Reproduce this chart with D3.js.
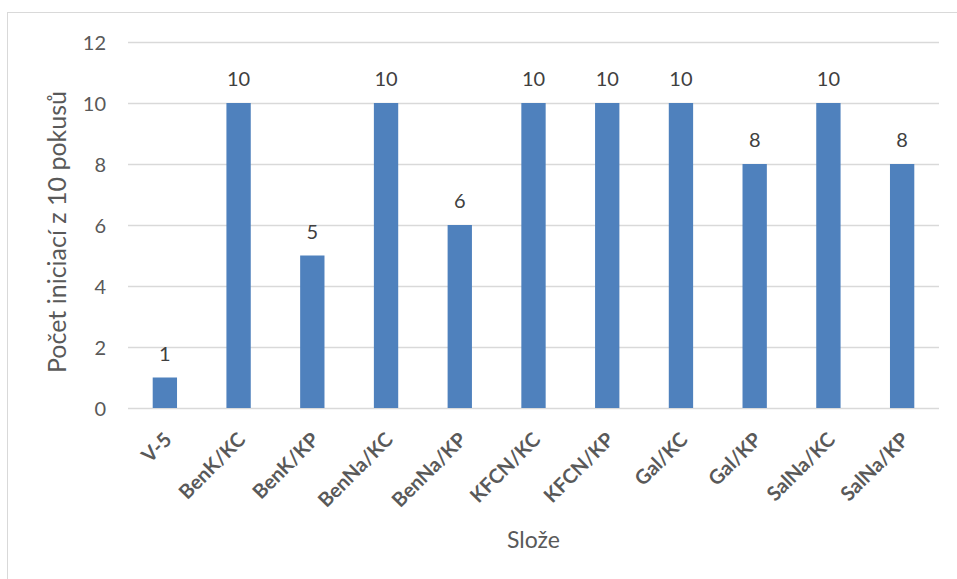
<!DOCTYPE html>
<html>
<head>
<meta charset="utf-8">
<script src="https://cdn.jsdelivr.net/npm/d3@7"></script>
<style>
  html, body { margin: 0; padding: 0; background: #fff; }
  svg { display: block; font-family: Lato, "Open Sans", "Noto Sans", sans-serif; }
</style>
</head>
<body>
<svg id="chart" width="957" height="579"></svg>
<script>
// Compositions tested and number of successful initiations out of 10 attempts
const categories = ["V-5", "BenK/KC", "BenK/KP", "BenNa/KC", "BenNa/KP", "KFCN/KC", "KFCN/KP", "Gal/KC", "Gal/KP", "SalNa/KC", "SalNa/KP"];
const initiations = [1, 10, 5, 10, 6, 10, 10, 10, 8, 10, 8];
const yTicks = [0, 2, 4, 6, 8, 10, 12];

const yTitle = "Počet iniciací z 10 pokusů";
const xTitle = "Slože";

const svg = d3.select("#chart");
const W = 957, H = 579;
const margin = { left: 128, right: 18, top: 42, bottom: 171 };
const textColor = "#595959";

// outer frame of the chart
svg.append("rect")
  .attr("x", 7.5).attr("y", 12.5)
  .attr("width", W + 20).attr("height", H + 20)
  .attr("fill", "none").attr("stroke", "#d9d9d9").attr("stroke-width", 1);

const x = d3.scaleBand()
  .domain(categories)
  .range([margin.left, W - margin.right])
  .padding(0);

const y = d3.scaleLinear()
  .domain([0, 12])
  .range([H - margin.bottom, margin.top]);

const barW = x.bandwidth() * 0.33;

// horizontal gridlines
svg.append("g")
  .selectAll("line")
  .data(yTicks)
  .join("line")
  .attr("x1", margin.left).attr("x2", W - margin.right)
  .attr("y1", d => Math.round(y(d)) + 0.5).attr("y2", d => Math.round(y(d)) + 0.5)
  .attr("stroke", "#d9d9d9").attr("stroke-width", 1.5);

// y axis tick labels
const yAxis = d3.axisLeft(y).tickValues(yTicks).tickSize(0).tickPadding(0);
const gy = svg.append("g")
  .attr("transform", `translate(${margin.left - 22},0)`)
  .call(yAxis);
gy.select(".domain").remove();
gy.selectAll("text")
  .attr("fill", textColor)
  .attr("font-family", "Lato, 'Open Sans', sans-serif")
  .attr("font-size", 20)
  .attr("dy", "0.35em");

// bars
svg.append("g")
  .selectAll("rect")
  .data(categories)
  .join("rect")
  .attr("x", (d) => x(d) + x.bandwidth() / 2 - barW / 2)
  .attr("width", barW)
  .attr("y", (d, i) => y(initiations[i]))
  .attr("height", (d, i) => y(0) - y(initiations[i]))
  .attr("fill", "#4f81bd");

// value labels above bars
svg.append("g")
  .selectAll("text")
  .data(categories)
  .join("text")
  .attr("x", d => x(d) + x.bandwidth() / 2)
  .attr("y", (d, i) => y(initiations[i]) - 17)
  .attr("text-anchor", "middle")
  .attr("fill", "#404040")
  .attr("font-size", 20)
  .text((d, i) => initiations[i]);

// x axis category labels, rotated 45 degrees
svg.append("g")
  .selectAll("text")
  .data(categories)
  .join("text")
  .attr("transform", d => `translate(${x(d) + x.bandwidth() / 2 + 8},${y(0) + 33}) rotate(-45)`)
  .attr("text-anchor", "end")
  .attr("fill", textColor)
  .attr("font-size", 20)
  .attr("font-weight", "bold")
  .text(d => d);

// axis titles
svg.append("text")
  .attr("x", (margin.left + W - margin.right) / 2)
  .attr("y", 548)
  .attr("text-anchor", "middle")
  .attr("fill", textColor)
  .attr("font-size", 23)
  .text(xTitle);

svg.append("text")
  .attr("transform", `translate(66,232) rotate(-90)`)
  .attr("text-anchor", "middle")
  .attr("fill", textColor)
  .attr("font-size", 25)
  .text(yTitle);
</script>
</body>
</html>
